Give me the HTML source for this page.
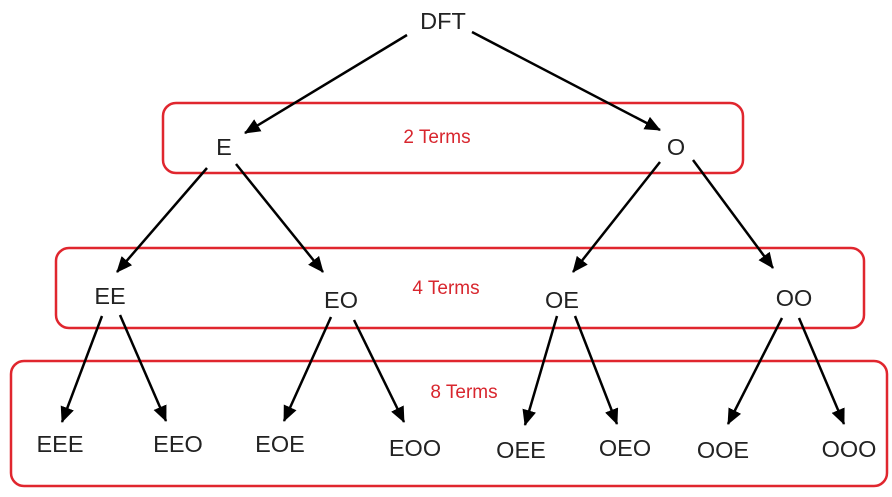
<!DOCTYPE html>
<html><head><meta charset="utf-8"><style>
html,body{margin:0;padding:0;background:#fff;}
svg{display:block;}
text{font-family:"Liberation Sans",Arial,sans-serif;}
.n{font-size:23.5px;fill:#222;text-anchor:middle;}
.r{font-size:19px;fill:#d8262e;text-anchor:middle;}
</style></head><body>
<svg width="892" height="497" viewBox="0 0 892 497" xmlns="http://www.w3.org/2000/svg">
<defs>
<marker id="b" markerWidth="16" markerHeight="14" refX="15" refY="7" orient="auto" markerUnits="userSpaceOnUse">
<path d="M0,0 L16,7 L0,14 z" fill="#000"/>
</marker>
</defs>
<g fill="none" stroke="#e0262e" stroke-width="2.5">
<rect x="163" y="103" width="580" height="70" rx="13"/>
<rect x="56" y="248" width="808" height="80" rx="13"/>
<rect x="11" y="361" width="876" height="125" rx="13"/>
</g>
<g stroke="#000" stroke-width="2.5" marker-end="url(#b)">
<line x1="407" y1="35" x2="245" y2="133"/>
<line x1="472" y1="32" x2="660" y2="130"/>
<line x1="207" y1="168" x2="117" y2="272"/>
<line x1="236" y1="164" x2="323" y2="272"/>
<line x1="660" y1="162" x2="573" y2="272"/>
<line x1="693" y1="160" x2="773" y2="268"/>
<line x1="102" y1="316" x2="62" y2="422"/>
<line x1="120" y1="315" x2="166" y2="421"/>
<line x1="331" y1="317" x2="284" y2="421"/>
<line x1="354" y1="320" x2="404" y2="422"/>
<line x1="557" y1="316" x2="525" y2="425"/>
<line x1="575" y1="316" x2="617" y2="424"/>
<line x1="782" y1="318" x2="728" y2="424"/>
<line x1="799" y1="318" x2="844" y2="424"/>
</g>
<text class="n" x="443" y="29">DFT</text>
<text class="n" x="224" y="155">E</text>
<text class="n" x="676" y="155">O</text>
<text class="r" x="437" y="143">2 Terms</text>
<text class="n" x="110" y="304">EE</text>
<text class="n" x="341" y="308">EO</text>
<text class="n" x="562" y="308">OE</text>
<text class="n" x="794" y="306">OO</text>
<text class="r" x="446" y="294">4 Terms</text>
<text class="r" x="464" y="398">8 Terms</text>
<text class="n" x="60" y="452">EEE</text>
<text class="n" x="178" y="452">EEO</text>
<text class="n" x="280" y="452">EOE</text>
<text class="n" x="415" y="456">EOO</text>
<text class="n" x="521" y="458">OEE</text>
<text class="n" x="625" y="456">OEO</text>
<text class="n" x="723" y="458">OOE</text>
<text class="n" x="849" y="457">OOO</text>
</svg>
</body></html>
